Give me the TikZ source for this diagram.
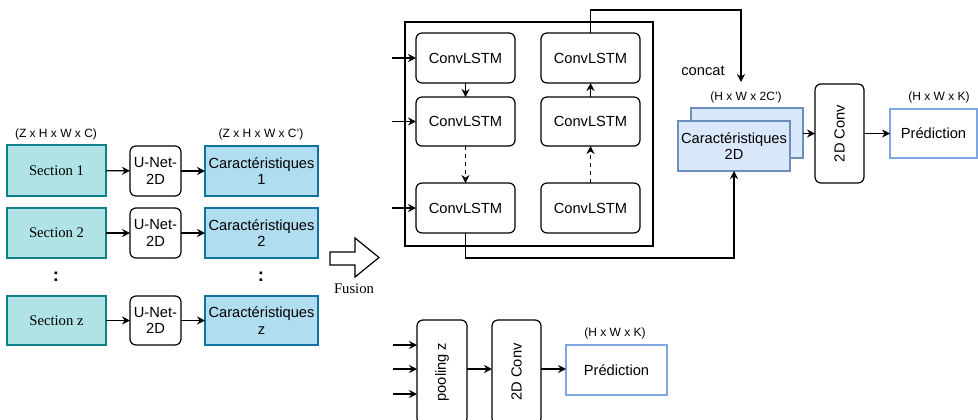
\documentclass[tikz,border=0pt]{standalone}
\usepackage{fontspec}
\setmainfont{Liberation Serif}
\setsansfont{Liberation Sans}
\usetikzlibrary{arrows.meta}
\definecolor{tealfill}{HTML}{B0E3E6}
\definecolor{tealline}{HTML}{0E8088}
\definecolor{bluefill}{HTML}{B1DDF0}
\definecolor{blueline}{HTML}{10739E}
\definecolor{lbfill}{HTML}{DAE8FC}
\definecolor{lbline}{HTML}{6C8EBF}
\definecolor{predline}{HTML}{7EA6E0}
\newcommand\bxnode[7]{\node[#1, minimum width={(#4-#2)*0.75pt}, minimum height={(#5-#3)*0.75pt}] (#6) at ({(#2+#4)/2},{(#3+#5)/2}) {#7};}
\tikzset{
  base/.style={draw, line width=0.9pt, inner sep=0pt, outer sep=0pt, align=center, font=\sffamily\fontsize{11}{12.5}\selectfont},
  secbox/.style={base, fill=tealfill, draw=tealline, font=\rmfamily\fontsize{11}{12.5}\selectfont},
  carbox/.style={base, fill=bluefill, draw=blueline},
  rbox/.style={base, rounded corners=4.5pt},
  f2d/.style={base, fill=lbfill, draw=lbline},
  predbox/.style={base, draw=predline, fill=white},
  lbl/.style={font=\sffamily\fontsize{9}{10}\selectfont, inner sep=0pt},
  dots/.style={font=\sffamily\bfseries\fontsize{14}{14}\selectfont, inner sep=0pt},
  arr/.style={line width=0.9pt, -{Stealth[length=6pt,width=6pt]}},
  ln/.style={line width=0.9pt},
}
\begin{document}
\begin{tikzpicture}[x=0.75pt,y=-0.75pt]
\useasboundingbox (0,0) rectangle (978,419);
% left column
\node[lbl] (lz1) at (56,134) {(Z x H x W x C)};
\node[lbl] (lz2) at (261,134) {(Z x H x W x C')};
\bxnode{secbox}{7}{145}{106}{196}{s1}{Section 1}
\bxnode{secbox}{7}{208}{106}{258}{s2}{Section 2}
\bxnode{secbox}{7}{296}{106}{345}{s3}{Section z}
\bxnode{rbox}{130}{146}{181}{196}{u1}{U-Net-\\2D}
\bxnode{rbox}{130}{208}{181}{258}{u2}{U-Net-\\2D}
\bxnode{rbox}{130}{296}{181}{345}{u3}{U-Net-\\2D}
\bxnode{carbox}{205}{146}{318}{196}{k1}{Caractéristiques\\1}
\bxnode{carbox}{205}{208}{318}{258}{k2}{Caractéristiques\\2}
\bxnode{carbox}{205}{296}{318}{345}{k3}{Caractéristiques\\z}
\node[dots] (d1) at (56,277) {:};
\node[dots] (d2) at (261,277) {:};
\foreach \i in {1,2,3}{
  \draw[arr] (s\i) -- (u\i);
  \draw[arr] (u\i) -- (k\i);
}
% fusion arrow
\draw[line width=0.9pt, fill=white] (330,252) -- (355,252) -- (355,238) -- (379,257.5) -- (355,277) -- (355,265) -- (330,265) -- cycle;
\node[font=\rmfamily\fontsize{11}{12.5}\selectfont, inner sep=0pt] (fus) at (354,289) {Fusion};
% ConvLSTM block
\draw[ln] (405,22) rectangle (653,246);
\bxnode{rbox}{416}{33}{515}{83}{c11}{ConvLSTM}
\bxnode{rbox}{416}{97}{515}{146}{c21}{ConvLSTM}
\bxnode{rbox}{416}{183}{515}{233}{c31}{ConvLSTM}
\bxnode{rbox}{541}{33}{640}{83}{c12}{ConvLSTM}
\bxnode{rbox}{541}{97}{640}{146}{c22}{ConvLSTM}
\bxnode{rbox}{541}{183}{640}{233}{c32}{ConvLSTM}
\coordinate (i1) at (392,58);
\coordinate (i2) at (392,121.5);
\coordinate (i3) at (392,208);
\draw[arr] (i1) -- (c11);
\draw[arr] (i2) -- (c21);
\draw[arr] (i3) -- (c31);
\draw[arr] (c11) -- (c21);
\draw[arr, dashed] (c21) -- (c31);
\draw[arr, dashed] (c32) -- (c22);
\draw[arr] (c22) -- (c12);
% right part
\bxnode{f2d}{691}{108}{803}{158}{back}{}
\bxnode{f2d}{678}{121}{790}{171}{front}{Caractéristiques\\2D}
\node[lbl] (l2c) at (746,97) {(H x W x 2C')};
\node[font=\sffamily\fontsize{11}{12.5}\selectfont, inner sep=0pt] (cc) at (703,71) {concat};
\coordinate (cin) at (741,82);
\draw[arr] (c12.north) |- (741,10) -- (cin);
\draw[arr] (c31.south) |- (734,258) -- (front.south);
\bxnode{rbox}{815}{84}{864}{183}{conv}{\rotatebox{90}{2D Conv}}
\bxnode{predbox}{890}{109}{977}{158}{pred}{Prédiction}
\node[lbl] (lhk) at (939,97) {(H x W x K)};
\draw[arr] (back.east |- conv) -- (conv);
\draw[arr] (conv) -- (pred);
% bottom part
\bxnode{rbox}{417}{320}{467}{424}{pool}{\rotatebox{90}{pooling z}}
\bxnode{rbox}{492}{320}{541}{424}{conv2}{\rotatebox{90}{2D Conv}}
\bxnode{predbox}{566}{345}{667}{395}{pred2}{Prédiction}
\node[lbl] (lhk2) at (615,333) {(H x W x K)};
\coordinate (p1) at (393,345);
\coordinate (p2) at (393,369);
\coordinate (p3) at (393,394);
\draw[arr] (p1) -- (p1 -| pool.west);
\draw[arr] (p2) -- (p2 -| pool.west);
\draw[arr] (p3) -- (p3 -| pool.west);
\draw[arr] (pool.east |- p2) -- (conv2.west |- p2);
\draw[arr] (conv2.east |- p2) -- (pred2.west |- p2);
\end{tikzpicture}
\end{document}
